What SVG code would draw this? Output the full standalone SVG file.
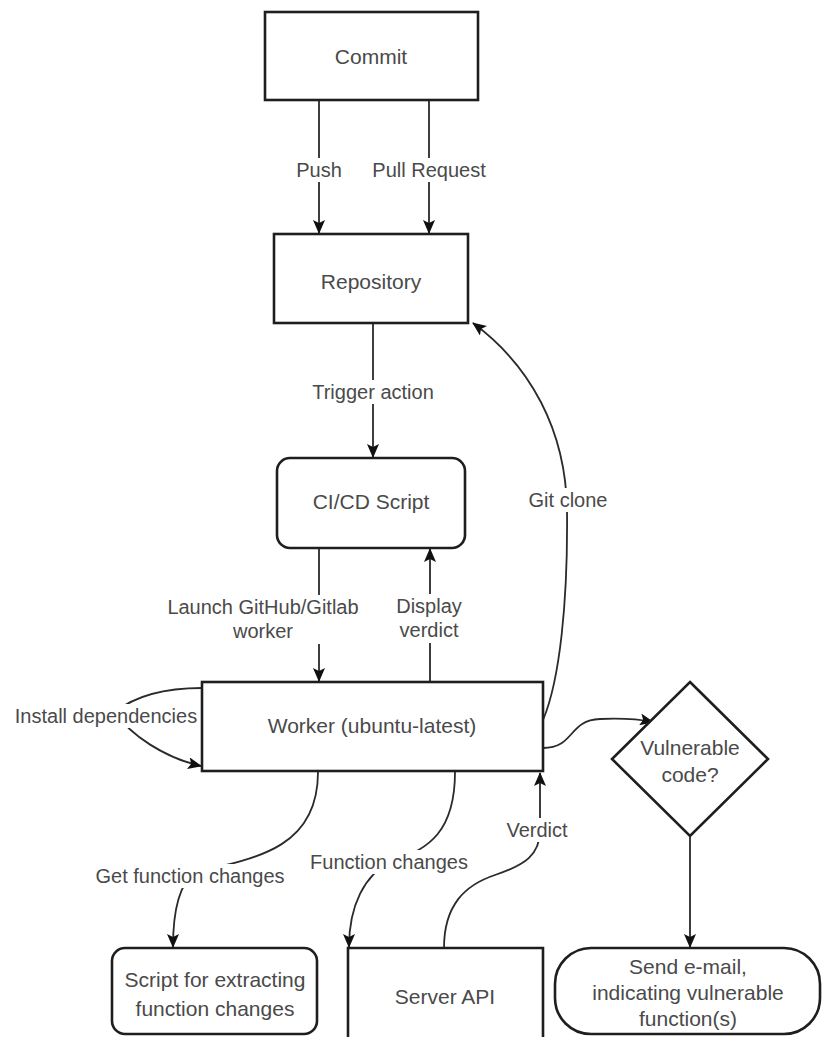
<svg xmlns="http://www.w3.org/2000/svg" width="822" height="1037" viewBox="0 0 822 1037">
<defs>
<style>
.node{fill:#fff;stroke:#1e1e1e;stroke-width:2.6}
.nt{font-family:"Liberation Sans",Arial,sans-serif;font-size:21px;fill:#4a4a4a;text-anchor:middle}
.edge{fill:none;stroke:#2a2a2a;stroke-width:1.8}
.el{font-family:"Liberation Sans",Arial,sans-serif;font-size:20px;fill:#4a4a4a;text-anchor:middle}
.lb{fill:#fff;stroke:none}
</style>
<marker id="arr" markerUnits="userSpaceOnUse" markerWidth="14" markerHeight="12" viewBox="0 0 14 12" refX="13" refY="6" orient="auto">
<path d="M0,0 L14,6 L0,12 L3,6 z" fill="#111"/>
</marker>
</defs>
<rect width="822" height="1037" fill="#fff"/>

<g id="connectors">
<path class="edge" d="M319,100 L319,233" marker-end="url(#arr)"/>
<path class="edge" d="M429,100 L429,233" marker-end="url(#arr)"/>
<path class="edge" d="M373,323 L373,457" marker-end="url(#arr)"/>
<path class="edge" d="M319,548 L319,681" marker-end="url(#arr)"/>
<path class="edge" d="M430,682 L430,549" marker-end="url(#arr)"/>
<path class="edge" d="M543,720 C560,680 568,600 567,510 C566,430 530,365 473,323" marker-end="url(#arr)"/>
<path class="edge" d="M202,688 C165,688 135,696 115,712 C130,735 165,758 201,766" marker-end="url(#arr)"/>
<path class="edge" d="M543,748 C575,748 568,720 600,719 C622,718 638,719 653,722" marker-end="url(#arr)"/>
<path class="edge" d="M690,837 L690,947" marker-end="url(#arr)"/>
<path class="edge" d="M318,772 C318,845 262,858 195,872 C178,885 173,915 173,947" marker-end="url(#arr)"/>
<path class="edge" d="M455,772 C455,830 430,850 390,862 C365,875 349,905 349,947" marker-end="url(#arr)"/>
<path class="edge" d="M444,948 C444,905 465,885 495,875 C525,865 540,855 540,830 L540,773" marker-end="url(#arr)"/>

<rect class="lb" x="294" y="158" width="50" height="24"/>
<text class="el" x="319" y="177">Push</text>
<rect class="lb" x="371" y="158" width="116" height="24"/>
<text class="el" x="429" y="177">Pull Request</text>
<rect class="lb" x="313" y="380" width="120" height="24"/>
<text class="el" x="373" y="399">Trigger action</text>
<rect class="lb" x="166" y="595" width="194" height="49"/>
<text class="el" x="263" y="614">Launch GitHub/Gitlab</text>
<text class="el" x="263" y="638">worker</text>
<rect class="lb" x="396" y="594" width="66" height="49"/>
<text class="el" x="429" y="613">Display</text>
<text class="el" x="429" y="637">verdict</text>
<rect class="lb" x="528" y="488" width="80" height="24"/>
<text class="el" x="568" y="507">Git clone</text>
<rect class="lb" x="14" y="704" width="184" height="24"/>
<text class="el" x="106" y="723">Install dependencies</text>
<rect class="lb" x="94" y="864" width="192" height="24"/>
<text class="el" x="190" y="883">Get function changes</text>
<rect class="lb" x="310" y="850" width="158" height="24"/>
<text class="el" x="389" y="869">Function changes</text>
<rect class="lb" x="503" y="818" width="68" height="24"/>
<text class="el" x="537" y="837">Verdict</text>
</g>

<g id="commit">
<rect class="node" x="265" y="12" width="213" height="88"/>
<text class="nt" x="371" y="64">Commit</text>
</g>
<g id="repository">
<rect class="node" x="274" y="234" width="194" height="89"/>
<text class="nt" x="371" y="289">Repository</text>
</g>
<g id="cicd">
<rect class="node" x="277" y="458" width="188" height="90" rx="13" ry="13"/>
<text class="nt" x="371" y="509">CI/CD Script</text>
</g>
<g id="worker">
<rect class="node" x="202" y="682" width="341" height="89"/>
<text class="nt" x="372" y="733">Worker (ubuntu-latest)</text>
</g>
<g id="vulnerable">
<polygon class="node" points="690,682 768,759 690,836 612,759"/>
<text class="nt" x="690" y="755">Vulnerable</text>
<text class="nt" x="690" y="782">code?</text>
</g>
<g id="script">
<rect class="node" x="112" y="948" width="205" height="86" rx="13" ry="13"/>
<text class="nt" x="215" y="987">Script for extracting</text>
<text class="nt" x="215" y="1016">function changes</text>
</g>
<g id="server">
<path class="node" d="M348,1040 L348,948 L543,948 L543,1040"/>
<text class="nt" x="445" y="1004">Server API</text>
</g>
<g id="email">
<rect class="node" x="555" y="948" width="265" height="86" rx="36" ry="36"/>
<text class="nt" x="688" y="974">Send e-mail,</text>
<text class="nt" x="688" y="1000">indicating vulnerable</text>
<text class="nt" x="688" y="1026">function(s)</text>
</g>
</svg>
